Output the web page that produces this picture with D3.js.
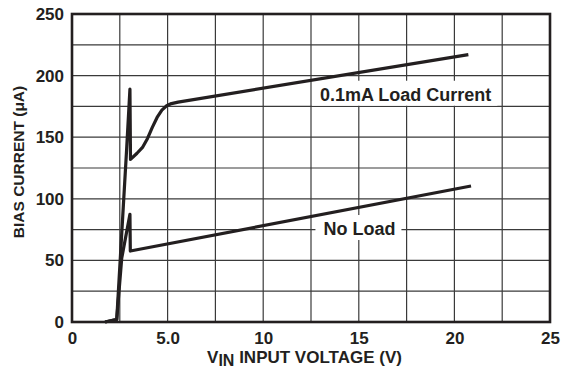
<!DOCTYPE html>
<html>
<head>
<meta charset="utf-8">
<script src="https://cdn.jsdelivr.net/npm/d3@7"></script>
<style>
  body { margin: 0; background: #fff; }
  text { font-family: "Liberation Sans", Arial, sans-serif; font-weight: bold; fill: #231f20; }
</style>
</head>
<body>
<svg width="562" height="370"></svg>
<script>
const svg = d3.select("svg");
const width = +svg.attr("width");
const height = +svg.attr("height");

const margin = { top: 14, right: 12, bottom: 48, left: 72 };

// data
const loadV = [1.73, 2.34, 2.86, 3.03, 3.06, 3.4, 3.7, 3.95, 4.2, 4.45, 4.7, 4.95, 5.2, 5.55, 20.73];
const loadI = [0, 2, 141, 189, 132, 137, 142, 149, 158, 166, 172, 175.5, 177.3, 178.5, 217];
const noLoadV = [1.73, 2.34, 2.6, 3.03, 3.05, 20.87];
const noLoadI = [0, 2.2, 51.7, 87.4, 57.6, 110.4];

const xTicks = [0, 5, 10, 15, 20, 25];
const xTickLabels = ["0", "5.0", "10", "15", "20", "25"];
const yTicks = [0, 50, 100, 150, 200, 250];
const xGrid = d3.range(0, 25.01, 2.5);
const yGrid = d3.range(0, 250.1, 25);

const x = d3.scaleLinear().domain([0, 25]).range([margin.left, width - margin.right]);
const y = d3.scaleLinear().domain([0, 250]).range([height - margin.bottom, margin.top]);

const ink = "#231f20";

// grid
svg.append("g")
    .selectAll("line.v")
    .data(xGrid)
    .enter().append("line")
    .attr("x1", d => x(d)).attr("x2", d => x(d))
    .attr("y1", y(0)).attr("y2", y(250))
    .attr("stroke", "#3a3a3a").attr("stroke-width", 1.2);

svg.append("g")
    .selectAll("line.h")
    .data(yGrid)
    .enter().append("line")
    .attr("x1", x(0)).attr("x2", x(25))
    .attr("y1", d => y(d)).attr("y2", d => y(d))
    .attr("stroke", "#3a3a3a").attr("stroke-width", 1.2);

// axes labels
const xAxis = svg.append("g")
    .attr("transform", `translate(0,${y(0)})`)
    .call(d3.axisBottom(x).tickValues(xTicks).tickSize(0).tickPadding(9.5)
        .tickFormat((d, i) => xTickLabels[i]));
const yAxis = svg.append("g")
    .attr("transform", `translate(${x(0)},0)`)
    .call(d3.axisLeft(y).tickValues(yTicks).tickSize(0).tickPadding(8));
[xAxis, yAxis].forEach(g => {
    g.select(".domain").remove();
    g.selectAll("text").attr("font-size", 17).attr("fill", ink)
        .style("font-family", '"Liberation Sans", Arial, sans-serif').style("font-weight", "bold");
});

// curve labels with white boxes
const labels = [
    { text: "0.1mA Load Current", v: 12.97, i: 179.6 },
    { text: "No Load", v: 13.15, i: 70.6 }
];
labels.forEach(l => {
    const g = svg.append("g");
    const rect = g.append("rect").attr("fill", "#fff");
    const t = g.append("text")
        .attr("x", x(l.v)).attr("y", y(l.i))
        .attr("font-size", 18)
        .text(l.text);
    const b = t.node().getBBox();
    rect.attr("x", b.x - 8).attr("y", b.y - 4)
        .attr("width", b.width + 14).attr("height", b.height + 5);
});

// curves
const line = d3.line()
    .x(d => x(d[0]))
    .y(d => y(d[1]));

const series = [
    d3.zip(noLoadV, noLoadI),
    d3.zip(loadV, loadI)
];
series.forEach(s => {
    svg.append("path")
        .datum(s)
        .attr("fill", "none")
        .attr("stroke", ink)
        .attr("stroke-width", 3.2)
        .attr("stroke-linejoin", "round")
        .attr("d", line);
});

// frame
svg.append("rect")
    .attr("x", x(0)).attr("y", y(250))
    .attr("width", x(25) - x(0)).attr("height", y(0) - y(250))
    .attr("fill", "none")
    .attr("stroke", ink)
    .attr("stroke-width", 2.6);

// axis titles
const xt = svg.append("text")
    .attr("x", 304.5).attr("y", 362.5)
    .attr("text-anchor", "middle")
    .attr("font-size", 17);
xt.append("tspan").text("V");
xt.append("tspan").attr("dy", 3).attr("font-size", 16).text("IN");
xt.append("tspan").attr("dy", -3).text(" INPUT VOLTAGE (V)");

svg.append("text")
    .attr("transform", `translate(24,${y(125) - 6}) rotate(-90)`)
    .attr("text-anchor", "middle")
    .attr("font-size", 15.5)
    .text("BIAS CURRENT (\u03BCA)");
</script>
</body>
</html>
